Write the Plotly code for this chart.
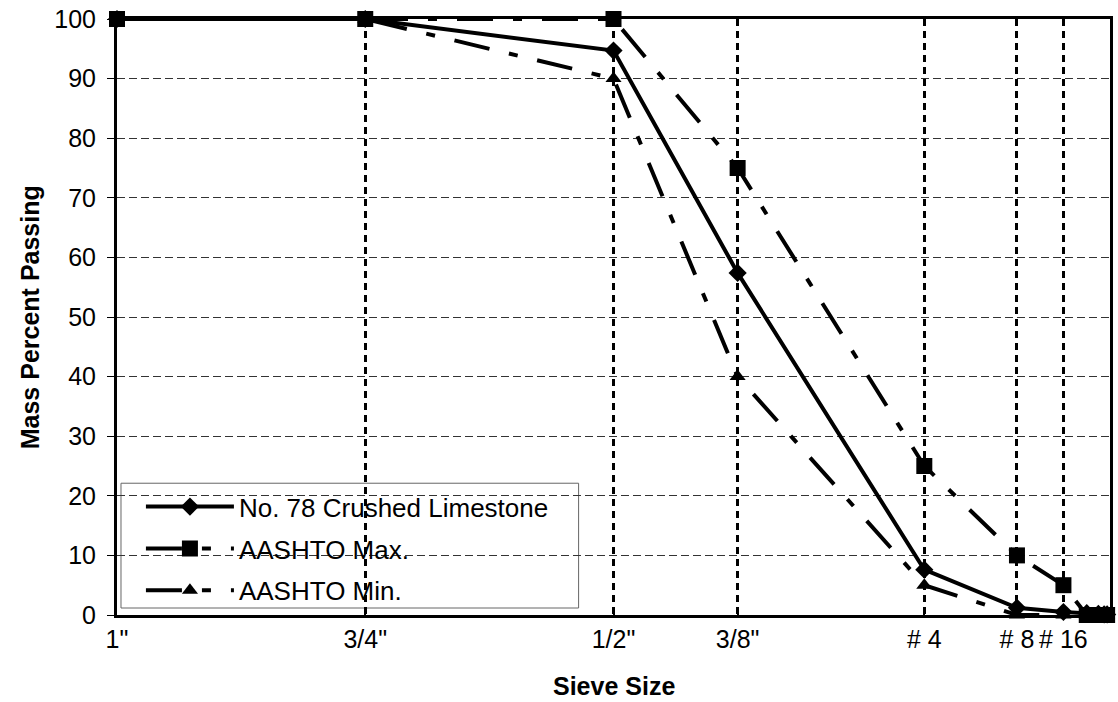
import plotly.graph_objects as go

# Sieve openings in inches (x positions)
sieve_in = [1.0, 0.75, 0.5, 0.375, 0.187, 0.0937, 0.0469, 0.0234, 0.0117, 0.0059, 0.0029]

limestone = [100, 100, 94.7, 57.4, 7.6, 1.2, 0.5, 0.3, 0.2, 0.1, 0.1]
aashto_max = [100, 100, 100, 75, 25, 10, 5, 0, 0, 0, 0]
aashto_min = [100, 100, 90, 40, 5, 0, 0, 0, 0, 0, 0]

tick_vals = [1.0, 0.75, 0.5, 0.375, 0.187, 0.0937, 0.0469]
tick_text = ['1"', '3/4"', '1/2"', '3/8"', '# 4', '# 8', '# 16']

FONT = "Liberation Sans, Arial, sans-serif"
DASHDOT = "36px,20px,9px,20px"

fig = go.Figure()
fig.add_trace(go.Scatter(
    x=sieve_in, y=limestone, name="No. 78 Crushed Limestone", mode="lines+markers",
    line=dict(color="black", width=4), legendgroup="a",
    marker=dict(symbol="diamond", size=14, color="black"), cliponaxis=False))
fig.add_trace(go.Scatter(
    x=sieve_in, y=aashto_max, name="AASHTO Max.", mode="lines+markers",
    line=dict(color="black", width=4, dash=DASHDOT), legendgroup="b",
    marker=dict(symbol="square", size=16, color="black"), cliponaxis=False))
fig.add_trace(go.Scatter(
    x=sieve_in, y=aashto_min, name="AASHTO Min.", mode="lines+markers",
    line=dict(color="black", width=4, dash=DASHDOT), legendgroup="c",
    marker=dict(symbol="triangle-up", size=14, color="black"), cliponaxis=False))

# legend box (white, above gridlines, below traces)
fig.add_shape(type="rect", xref="paper", yref="paper",
              x0=(121 - 117) / 996, x1=(580 - 117) / 996,
              y0=(615 - 608) / 597, y1=(615 - 483) / 597,
              line=dict(color="#666666", width=1), fillcolor="white", layer="between")

fig.update_layout(
    width=1118, height=702,
    margin=dict(l=117, r=5, t=18, b=87),
    plot_bgcolor="white", paper_bgcolor="white",
    font=dict(family=FONT, size=25, color="black"),
    showlegend=True,
    legend=dict(x=(141 - 117) / 996, y=(615 - 483) / 597, xanchor="left", yanchor="top",
                bgcolor="rgba(0,0,0,0)", borderwidth=0, itemwidth=88,
                tracegroupgap=5, font=dict(size=26, family=FONT)),
    xaxis=dict(range=[1.0, 0.0], tickmode="array", tickvals=tick_vals, ticktext=tick_text,
               showgrid=True, gridcolor="black", gridwidth=3, griddash="7px,5px",
               showline=True, linecolor="black", linewidth=3, mirror=True,
               ticks="inside", ticklen=6, tickcolor="black", tickwidth=2,
               zeroline=False, tickfont=dict(size=25)),
    yaxis=dict(range=[0, 100], tickmode="array", tickvals=list(range(0, 101, 10)),
               showgrid=True, gridcolor="#333333", gridwidth=1, griddash="8px,4px",
               showline=True, linecolor="black", linewidth=3, mirror=True,
               ticks="outside", ticklen=7, tickcolor="black", tickwidth=1,
               ticklabelstandoff=6, zeroline=False, tickfont=dict(size=25)),
    annotations=[
        dict(text="<b>Mass Percent Passing</b>", xref="paper", yref="paper",
             x=(30 - 117) / 996, y=0.5, xanchor="center", yanchor="middle",
             textangle=-90, showarrow=False, font=dict(size=25)),
        dict(text="<b>Sieve Size</b>", xref="paper", yref="paper",
             x=0.5, y=(615 - 686) / 597, xanchor="center", yanchor="middle",
             showarrow=False, font=dict(size=25)),
    ],
)

fig.write_html("out.html")
